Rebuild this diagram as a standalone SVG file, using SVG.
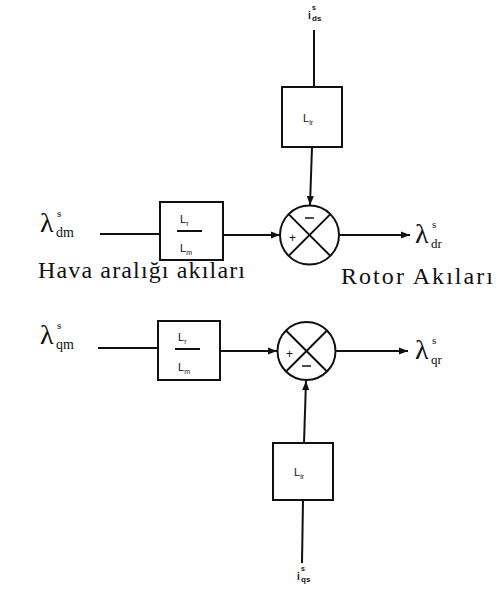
<svg xmlns="http://www.w3.org/2000/svg" width="499" height="591" viewBox="0 0 499 591">
<defs>
<marker id="ah" viewBox="0 0 10 10" refX="10" refY="5" markerWidth="9" markerHeight="9" markerUnits="userSpaceOnUse" orient="auto"><path d="M0,1 L10,5 L0,9 z" fill="#111"/></marker>
<style>
.ln{stroke:#111;stroke-width:2;fill:none}
.bx{stroke:#111;stroke-width:2;fill:#fff}
.sm{font-family:"Liberation Sans",Arial,sans-serif;fill:#111}
.sr{font-family:"Liberation Serif","Times New Roman",serif;fill:#111}
</style>
</defs>
<rect width="499" height="591" fill="#fff"/>
<g id="connectors">
<line class="ln" x1="314" y1="30" x2="314" y2="87"/>
<line class="ln" x1="312" y1="147" x2="310" y2="205" marker-end="url(#ah)"/>
<line class="ln" x1="100" y1="234" x2="160" y2="234"/>
<line class="ln" x1="223" y1="235" x2="280" y2="235" marker-end="url(#ah)"/>
<line class="ln" x1="339" y1="235" x2="410" y2="235" marker-end="url(#ah)"/>
<line class="ln" x1="98" y1="348" x2="158" y2="348"/>
<line class="ln" x1="220" y1="351" x2="277" y2="351" marker-end="url(#ah)"/>
<line class="ln" x1="336" y1="351" x2="408" y2="351" marker-end="url(#ah)"/>
<line class="ln" x1="304" y1="443" x2="306" y2="381" marker-end="url(#ah)"/>
<line class="ln" x1="303" y1="500" x2="302" y2="563"/>
</g>
<g id="i_ds"><text class="sm" font-size="10" font-weight="bold"><tspan x="308" y="19">i</tspan><tspan x="312" y="10" font-size="7">s</tspan><tspan x="312" y="21" font-size="8">ds</tspan></text></g>
<g id="Llr_top"><rect class="bx" x="282" y="87" width="60" height="60"/><text class="sm" x="303" y="122" font-size="11">L<tspan font-size="7" dy="3">lr</tspan></text></g>
<g id="Lr_Lm_top"><rect class="bx" x="160" y="202" width="63" height="58"/><text class="sm" x="180" y="223" font-size="11">L<tspan font-size="7" dy="3">r</tspan></text><line class="ln" x1="177" y1="231" x2="202" y2="231" stroke-width="1.5"/><text class="sm" x="180" y="252" font-size="11">L<tspan font-size="7" dy="3">m</tspan></text></g>
<g id="sum_top"><circle class="bx" cx="309.5" cy="235" r="29.5"/><line class="ln" x1="288.6" y1="214.1" x2="330.4" y2="255.9"/><line class="ln" x1="330.4" y1="214.1" x2="288.6" y2="255.9"/><text class="sm" x="289" y="242" font-size="12">+</text><line x1="305" y1="218" x2="314" y2="218" stroke="#111" stroke-width="1.5"/></g>
<g id="lambda_dm"><text class="sr" font-size="28"><tspan x="40" y="232">λ</tspan><tspan x="57" y="217" font-size="11">s</tspan><tspan x="56" y="237" font-size="14">dm</tspan></text></g>
<g id="lambda_dr"><text class="sr" font-size="28"><tspan x="415" y="243">λ</tspan><tspan x="432" y="228" font-size="11">s</tspan><tspan x="431" y="248" font-size="13">dr</tspan></text></g>
<g id="label_hava"><text class="sr" x="38" y="278" font-size="24" textLength="207" lengthAdjust="spacing">Hava aralığı akıları</text></g>
<g id="label_rotor"><text class="sr" x="341" y="284" font-size="24" textLength="152" lengthAdjust="spacing">Rotor Akıları</text></g>
<g id="lambda_qm"><text class="sr" font-size="28"><tspan x="40" y="344">λ</tspan><tspan x="57" y="329" font-size="11">s</tspan><tspan x="56" y="349" font-size="14">qm</tspan></text></g>
<g id="Lr_Lm_bot"><rect class="bx" x="158" y="321" width="62" height="59"/><text class="sm" x="178" y="341" font-size="11">L<tspan font-size="7" dy="3">r</tspan></text><line class="ln" x1="175" y1="349" x2="200" y2="349" stroke-width="1.5"/><text class="sm" x="178" y="371" font-size="11">L<tspan font-size="7" dy="3">m</tspan></text></g>
<g id="sum_bot"><circle class="bx" cx="306.5" cy="351" r="29"/><line class="ln" x1="286" y1="330.5" x2="327" y2="371.5"/><line class="ln" x1="327" y1="330.5" x2="286" y2="371.5"/><text class="sm" x="286" y="358" font-size="12">+</text><line x1="302" y1="366" x2="311" y2="366" stroke="#111" stroke-width="1.5"/></g>
<g id="lambda_qr"><text class="sr" font-size="28"><tspan x="415" y="359">λ</tspan><tspan x="432" y="344" font-size="11">s</tspan><tspan x="431" y="364" font-size="13">qr</tspan></text></g>
<g id="Llr_bot"><rect class="bx" x="273" y="443" width="60" height="57"/><text class="sm" x="294" y="476" font-size="11">L<tspan font-size="7" dy="3">lr</tspan></text></g>
<g id="i_qs"><text class="sm" font-size="10" font-weight="bold"><tspan x="297" y="580">i</tspan><tspan x="301" y="571" font-size="7">s</tspan><tspan x="301" y="582" font-size="8">qs</tspan></text></g>
</svg>
